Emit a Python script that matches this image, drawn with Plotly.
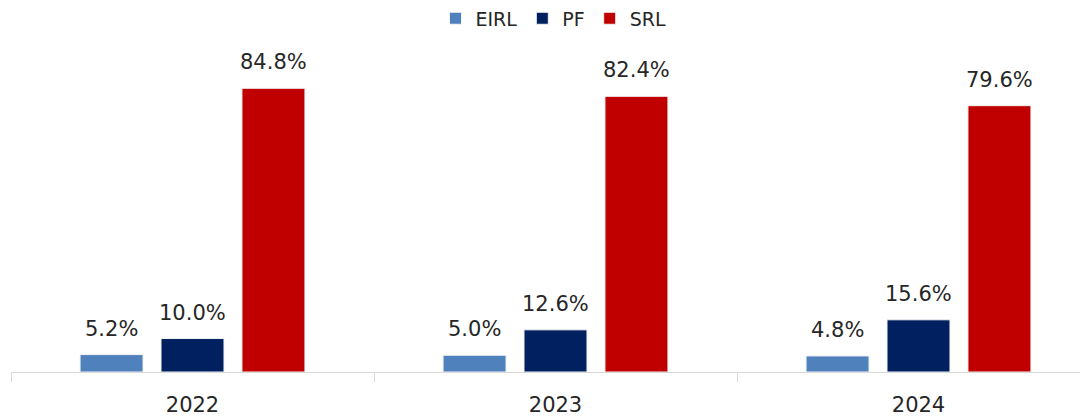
import plotly.graph_objects as go

years = ["2022", "2023", "2024"]
eirl = [5.2, 5.0, 4.8]
pf = [10.0, 12.6, 15.6]
srl = [84.8, 82.4, 79.6]

series = [("EIRL", eirl, "#4F81BD"), ("PF", pf, "#002060"), ("SRL", srl, "#C00000")]
shifts = [-81, 0, 81]  # pixel offset of each bar inside its group

fig = go.Figure()
for (name, vals, color), dx in zip(series, shifts):
    fig.add_trace(go.Bar(
        x=years, y=vals, name=name,
        marker=dict(color=color, line=dict(color="#F2F2F2", width=1)),
    ))
    # category axis: annotation x is the category index
    for i, v in enumerate(vals):
        fig.add_annotation(x=i, y=v, text=f"{v:.1f}%", showarrow=False,
                           xshift=dx, yshift=12, yanchor="bottom",
                           font=dict(size=21, color="#262626"))

# page body has an 8px margin, so margins are offset by it
fig.update_layout(
    width=1088, height=417,
    margin=dict(l=3, r=0, t=29, b=53),
    plot_bgcolor="white", paper_bgcolor="white",
    font=dict(family="DejaVu Sans", color="#262626"),
    barmode="group", bargap=0.331, bargroupgap=0.222,
    legend=dict(orientation="h", x=0.5, xanchor="center",
                yref="container", y=0.975, yanchor="middle",
                font=dict(size=19), itemwidth=30),
    xaxis=dict(type="category", range=[-0.5, 2.489], tickson="boundaries",
               ticks="outside", ticklen=9, tickcolor="#D9D9D9", showline=True,
               linecolor="#D9D9D9", linewidth=1, tickfont=dict(size=21),
               showgrid=False, automargin=False, ticklabelstandoff=14),
    yaxis=dict(range=[0, 100], visible=False),
)

fig.write_html("out.html")
